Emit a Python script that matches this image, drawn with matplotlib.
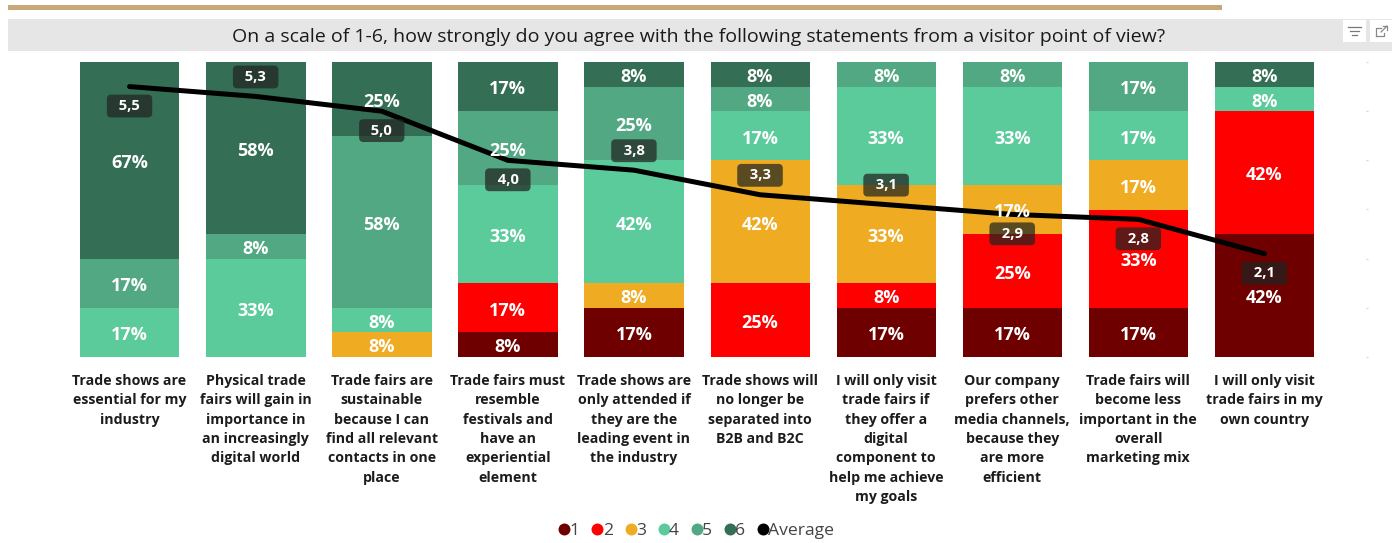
import numpy as np
import matplotlib
matplotlib.use('Agg')
import matplotlib.pyplot as plt
from matplotlib.lines import Line2D
from matplotlib.patches import Rectangle

W, H = 1398, 543
plt.rcParams['font.family'] = ['Open Sans', 'DejaVu Sans']

title = 'On a scale of 1-6, how strongly do you agree with the following statements from a visitor point of view?'
statements = [
    'Trade shows are\nessential for my\nindustry',
    'Physical trade\nfairs will gain in\nimportance in\nan increasingly\ndigital world',
    'Trade fairs are\nsustainable\nbecause I can\nfind all relevant\ncontacts in one\nplace',
    'Trade fairs must\nresemble\nfestivals and\nhave an\nexperiential\nelement',
    'Trade shows are\nonly attended if\nthey are the\nleading event in\nthe industry',
    'Trade shows will\nno longer be\nseparated into\nB2B and B2C',
    'I will only visit\ntrade fairs if\nthey offer a\ndigital\ncomponent to\nhelp me achieve\nmy goals',
    'Our company\nprefers other\nmedia channels,\nbecause they\nare more\nefficient',
    'Trade fairs will\nbecome less\nimportant in the\noverall\nmarketing mix',
    'I will only visit\ntrade fairs in my\nown country',
]
# share of answers per score, in percent of 12 respondents
score1 = [0, 0, 0, 8.33, 16.67, 0, 16.67, 16.67, 16.67, 41.67]
score2 = [0, 0, 0, 16.67, 0, 25, 8.33, 25, 33.33, 41.67]
score3 = [0, 0, 8.33, 0, 8.33, 41.67, 33.33, 16.67, 16.67, 0]
score4 = [16.67, 33.33, 8.33, 33.33, 41.67, 16.67, 33.33, 33.33, 16.67, 8.33]
score5 = [16.67, 8.33, 58.33, 25, 25, 8.33, 8.33, 8.33, 16.67, 0]
score6 = [66.67, 58.33, 25, 16.67, 8.33, 8.33, 0, 0, 0, 8.33]
average = [5.5, 5.3, 5.0, 4.0, 3.8, 3.3, 3.1, 2.9, 2.8, 2.1]
average_side = [-1, 1, -1, -1, 1, 1, 1, -1, -1, -1]

scores = [score1, score2, score3, score4, score5, score6]
score_names = ['1', '2', '3', '4', '5', '6']
colors = ['#6e0000', '#ff0000', '#efac22', '#5ccb9c', '#52a883', '#346e55']

fig = plt.figure(figsize=(W / 100, H / 100), dpi=100)

# header strip, in pixel coordinates
bg = fig.add_axes([0, 0, 1, 1])
bg.set_xlim(0, W)
bg.set_ylim(H, 0)
bg.axis('off')
bg.add_patch(Rectangle((8, 5), 1214, 5, color='#c8a878', lw=0))
bg.add_patch(Rectangle((8, 19), 1384, 32, color='#e6e6e6', lw=0))
bg.text(698.5, 36.5, title, ha='center', va='center', fontsize=14.0, color='#1a1a1a')
bg.add_patch(Rectangle((1343, 20), 23, 22, color='white', lw=0))
bg.add_patch(Rectangle((1370, 20), 22, 22, color='white', lw=0))
# filter and focus icons
for y, a, b in [(27, 1348, 1361), (31, 1350, 1359), (35, 1352, 1357)]:
    bg.plot([a, b], [y, y], color='#777777', lw=0.9)
bg.plot([1376, 1376, 1381], [36, 28, 28], color='#888888', lw=0.9)
bg.plot([1376, 1384, 1384], [36, 36, 33], color='#888888', lw=0.9)
bg.plot([1381, 1387], [32, 26], color='#888888', lw=0.9)
bg.plot([1383, 1387, 1387], [26, 26, 30], color='#888888', lw=0.9)

left, right, top, bottom = 66.5, 1366, 62, 357
ax = fig.add_axes([left / W, 1 - bottom / H, (right - left) / W, (bottom - top) / H])
ax.patch.set_alpha(0)
x = np.arange(len(statements))
ax.set_xlim(-0.5, (right - 129.5) / 126.1)
ax.set_ylim(0, 100)
ax.set_yticks([])
ax.set_xticks(x)
ax.set_xticklabels(statements, fontsize=10.15, fontweight='bold', color='#1c1c1c', linespacing=1.495)
ax.tick_params(axis='x', length=0, pad=12)
for s in ax.spines.values():
    s.set_visible(False)

# average score on its own 0-6 scale
ax2 = ax.twinx()
ax2.set_ylim(0, 6)
ax2.set_yticks(range(7))
ax2.set_yticklabels([])
ax2.tick_params(axis='y', length=1.5, width=0.8, color='#d5d5d5', pad=0)
for s in ax2.spines.values():
    s.set_visible(False)
ax2.plot(x, average, color='black', lw=3.6, solid_joinstyle='round', solid_capstyle='round', zorder=2)

# percent labels go on the top axes so the line passes behind them
base = np.zeros(len(statements))
for vals, col in zip(scores, colors):
    vals = np.array(vals)
    ax.bar(x + 0.002, vals, 0.788, bottom=base, color=col, lw=0)
    for i, v in enumerate(vals):
        if v > 0:
            ax2.annotate('%.0f%%' % v, (i, base[i] + v / 2), xycoords=ax.transData,
                         xytext=(0, -2), textcoords='offset points', ha='center', va='center',
                         color='white', fontsize=13, fontweight='bold', zorder=3)
    base += vals

for i, v in enumerate(average):
    ax2.annotate('\u00a0\u00a0' + ('%.1f' % v).replace('.', ',') + '\u00a0\u00a0', (i, v),
                 xytext=(0, 14 * average_side[i]), textcoords='offset points',
                 ha='center', va='center', color='white', fontsize=10.6, fontweight='bold', zorder=4,
                 bbox=dict(boxstyle='round,pad=0.3,rounding_size=0.3', fc=(0.13, 0.14, 0.13, 0.72), ec='none'))

handles = [Line2D([], [], ls='none', marker='o', ms=8.6, color=c, mew=0) for c in colors]
handles.append(Line2D([], [], ls='none', marker='o', ms=8.6, color='black', mew=0))
fig.legend(handles, score_names + ['Average'], loc='center', bbox_to_anchor=(695 / W, 1 - 530.5 / H),
           ncol=7, frameon=False, fontsize=12.6, handletextpad=-0.2, columnspacing=0.52,
           labelcolor='#444444', handlelength=1.0, borderpad=0)

fig.savefig('out.png', dpi=100)
